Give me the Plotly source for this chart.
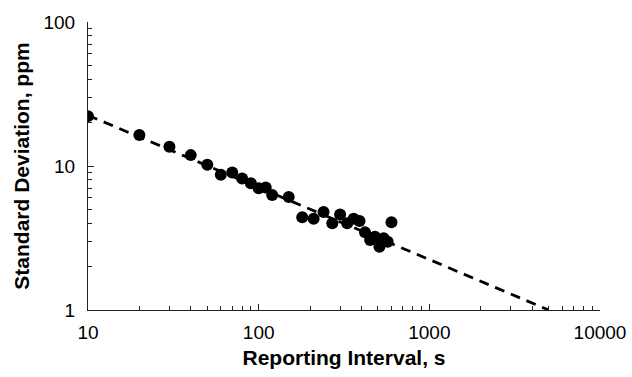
import plotly.graph_objects as go

interval_s = [10, 20, 30, 40, 50, 60, 70, 80, 90, 100, 110, 120, 150, 180, 210,
              240, 270, 300, 330, 360, 390, 420, 450, 480, 510, 540, 570, 600]
std_ppm = [22.2, 16.4, 13.6, 11.9, 10.2, 8.7, 9.0, 8.2, 7.6, 7.0, 7.1, 6.3, 6.1,
           4.4, 4.3, 4.8, 4.0, 4.6, 4.0, 4.3, 4.15, 3.46, 3.06, 3.23, 2.75, 3.15, 2.98, 4.07]

trend_x = [10, 5000]
trend_y = [22.5, 1.0]

x_ticks = [10, 100, 1000, 10000]
y_ticks = [1, 10, 100]

font = "Liberation Sans, Arial, sans-serif"

fig = go.Figure()
fig.add_trace(go.Scatter(x=trend_x, y=trend_y, mode="lines",
                         line=dict(color="black", width=2.8, dash="10px,7px"),
                         hoverinfo="skip", showlegend=False))
fig.add_trace(go.Scatter(x=interval_s, y=std_ppm, mode="markers",
                         marker=dict(color="black", size=12),
                         showlegend=False))

axis_common = dict(showgrid=False, zeroline=False, showline=True, linecolor="#222",
                   linewidth=1, ticks="inside", ticklen=6, tickcolor="#222",
                   tickfont=dict(family=font, size=19, color="black"),
                   mirror=False)

fig.update_xaxes(type="log", range=[1, 4], tickvals=x_ticks,
                 ticktext=[str(v) for v in x_ticks],
                 title=dict(text="<b>Reporting Interval, s</b>",
                            font=dict(family=font, size=21, color="black"), standoff=8),
                 minor=dict(ticks="inside", ticklen=4, tickcolor="#222", dtick="D1"),
                 ticklabelstandoff=5,
                 **axis_common)
fig.update_yaxes(type="log", range=[0, 2], tickvals=y_ticks,
                 ticktext=[str(v) for v in y_ticks],
                 title=dict(text="<b>Standard Deviation, ppm</b>",
                            font=dict(family=font, size=21, color="black"), standoff=8),
                 minor=dict(ticks="inside", ticklen=4, tickcolor="#222", dtick="D1"),
                 ticklabelstandoff=8,
                 **axis_common)

fig.update_layout(width=632, height=377,
                  margin=dict(l=88, r=32, t=22, b=67, autoexpand=False),
                  plot_bgcolor="white", paper_bgcolor="white",
                  font=dict(family=font))

fig.write_html("out.html")
